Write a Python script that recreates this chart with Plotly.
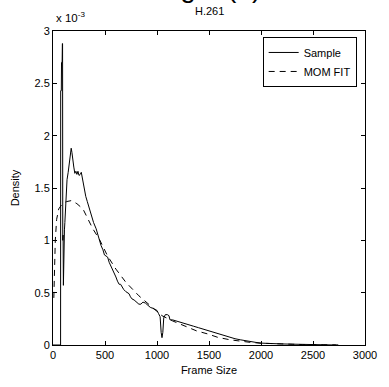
import plotly.graph_objects as go

# Data (density in units of 1e-3)
sample_x = [0, 55, 70, 73, 74, 80, 82, 88, 90, 92, 94, 97, 100, 104, 110, 114, 125, 135, 146, 155, 165, 175,
            182, 190, 200, 210, 220, 230, 240, 250, 262, 272, 285, 300, 315, 330, 351, 370, 390, 415, 435, 450,
            462, 480, 495, 510, 525, 540, 555, 573, 590, 605, 620, 636, 650, 665, 680, 700, 715, 731, 745, 760,
            780, 800, 826, 845, 865, 889, 910, 935, 960, 980, 1000, 1015, 1030, 1040, 1048, 1056, 1065, 1080,
            1100, 1115, 1125, 1150, 1180, 1210, 1250, 1300, 1350, 1400, 1450, 1500, 1550, 1600, 1650, 1700,
            1750, 1800, 1850, 1900, 1950, 2000, 2100, 2200, 2300, 2400, 2500, 2600, 2700, 2720]
sample_y = [0, 0, 0, 0, 2.43, 2.43, 2.70, 2.70, 2.88, 2.88, 1.0, 1.05, 0.57, 1.0, 1.1, 1.17, 1.45, 1.58, 1.65, 1.74, 1.82, 1.88,
            1.84, 1.76, 1.70, 1.64, 1.66, 1.63, 1.66, 1.62, 1.63, 1.65, 1.57, 1.48, 1.42, 1.37, 1.30, 1.22, 1.17, 1.11, 1.04, 0.99,
            0.95, 0.91, 0.86, 0.85, 0.84, 0.79, 0.76, 0.73, 0.69, 0.65, 0.61, 0.58, 0.58, 0.55, 0.53, 0.51, 0.50, 0.49, 0.46, 0.44,
            0.43, 0.41, 0.39, 0.39, 0.41, 0.40, 0.38, 0.36, 0.35, 0.34, 0.33, 0.30, 0.27, 0.12, 0.07, 0.12, 0.26, 0.29,
            0.29, 0.28, 0.24, 0.24, 0.23, 0.22, 0.21, 0.19, 0.18, 0.165, 0.15, 0.135, 0.12, 0.10, 0.09, 0.075,
            0.06, 0.05, 0.04, 0.03, 0.025, 0.018, 0.012, 0.01, 0.008, 0.006, 0.005, 0.005, 0.004, 0.0]

fit_x = [8, 15, 22, 35, 55, 90, 130, 178, 230, 288, 340, 383, 446, 525, 605, 700, 826, 940, 1048, 1150,
         1269, 1380, 1490, 1585, 1700, 1800, 1900, 2000, 2200, 2400, 2600, 2750]
fit_y = [0.45, 0.75, 1.0, 1.2, 1.3, 1.35, 1.37, 1.38, 1.35, 1.30, 1.20, 1.11, 1.01, 0.85, 0.725, 0.60, 0.47, 0.37, 0.28, 0.23,
         0.18, 0.135, 0.105, 0.073, 0.05, 0.035, 0.025, 0.017, 0.008, 0.004, 0.002, 0.001]

x_ticks = [0, 500, 1000, 1500, 2000, 2500, 3000]
y_ticks = [0, 0.5, 1, 1.5, 2, 2.5, 3]
y_ticktext = ["0", "0.5", "1", "1.5", "2", "2.5", "3"]

FONT = "Arial, Liberation Sans, sans-serif"

fig = go.Figure()
fig.add_trace(go.Scatter(x=sample_x, y=sample_y, mode="lines", name="Sample",
                         line=dict(color="black", width=1)))
fig.add_trace(go.Scatter(x=fit_x, y=fit_y, mode="lines", name="MOM FIT",
                         line=dict(color="black", width=1, dash="6px,5px")))

axis_common = dict(showline=True, linecolor="black", linewidth=1, mirror="ticks",
                   ticks="inside", ticklen=4, tickcolor="black", showgrid=False,
                   zeroline=False, tickfont=dict(family=FONT, size=11, color="black"))

fig.update_layout(
    width=389, height=387,
    margin=dict(l=53, r=20, t=31, b=41),
    paper_bgcolor="white", plot_bgcolor="white",
    font=dict(family=FONT, size=11, color="black"),
    showlegend=True,
    legend=dict(x=0.672, y=0.981, xanchor="left", yanchor="top",
                bordercolor="black", borderwidth=1, bgcolor="white",
                font=dict(family=FONT, size=11, color="black"),
                tracegroupgap=0, itemwidth=30),
    xaxis=dict(range=[0, 3000], tickvals=x_ticks, ticktext=[str(v) for v in x_ticks],
               title=dict(text="Frame Size", font=dict(family=FONT, size=11), standoff=6),
               **axis_common),
    yaxis=dict(range=[0, 3], tickvals=y_ticks, ticktext=y_ticktext,
               title=dict(text="Density", font=dict(family=FONT, size=11), standoff=12),
               **axis_common),
    annotations=[
        dict(text="H.261", xref="paper", yref="paper", x=0.5, y=1.0 + 12/315, xanchor="center",
             yanchor="bottom", showarrow=False, font=dict(family=FONT, size=11, color="black")),
        dict(text="x 10<sup>-3</sup>", xref="paper", yref="paper", x=0.003, y=1.0 + 5/315, xanchor="left",
             yanchor="bottom", showarrow=False, font=dict(family=FONT, size=11.5, color="black")),
        dict(text="Fig. 1(a)", xref="paper", yref="paper", x=(211-53)/316, y=1.0 + 26/315, xanchor="center",
             yanchor="bottom", showarrow=False, font=dict(family=FONT, size=28, color="black")),
    ],
)

fig.write_html("out.html")
